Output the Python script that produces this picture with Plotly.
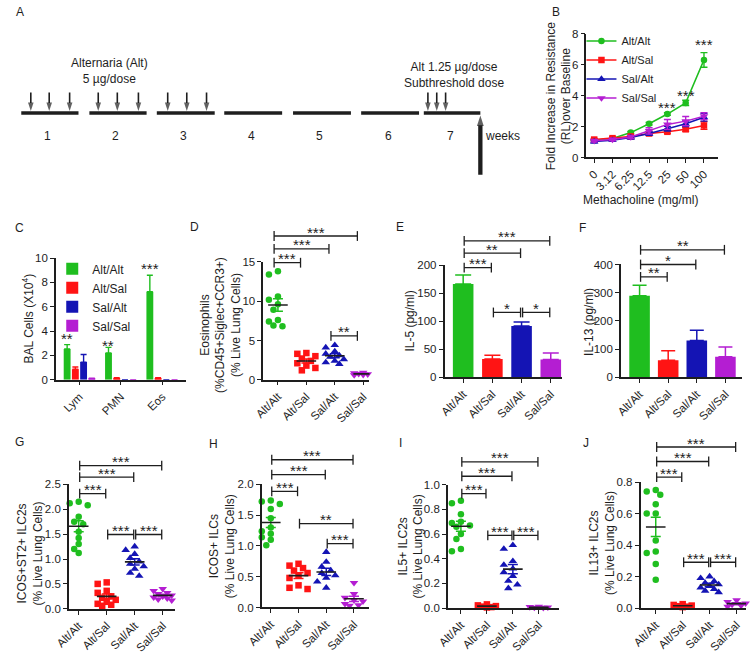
import numpy as np
import plotly.graph_objects as go

W, H = 751, 656
FONT = "Liberation Sans, Arial, Helvetica, sans-serif"
INK = "#1e1e1e"
GREEN, RED, BLUE, MAG = "#1FBE1F", "#FF1414", "#1414B4", "#B41ED2"

groups = ["Alt/Alt", "Alt/Sal", "Sal/Alt", "Sal/Sal"]
group_colors = [GREEN, RED, BLUE, MAG]
group_symbols = ["circle", "square", "triangle-up", "triangle-down"]
group_sizes = [6.5, 6.5, 7.5, 7.5]

# ---------------- A: protocol timeline (in weeks) ----------------
week_labels = ["1", "2", "3", "4", "5", "6", "7"]
week_start = [0.0, 1.0, 1.99, 2.98, 3.99, 4.99, 5.91]
week_end = [0.84, 1.84, 2.84, 3.83, 4.84, 5.84, 6.74]
sensitization_days = [0.14, 0.41, 0.71, 1.13, 1.41, 1.72, 2.15, 2.43, 2.72]
challenge_days = [5.97, 6.10, 6.23]
harvest_day = 6.74

# ---------------- B: methacholine challenge ----------------
mch = ["0", "3.12", "6.25", "12.5", "25", "50", "100"]
B_altalt = [1.12, 1.23, 1.61, 2.18, 2.81, 3.53, 6.31]
B_altalt_err = [0.06, 0.06, 0.07, 0.08, 0.08, 0.17, 0.47]
B_altsal = [1.16, 1.25, 1.36, 1.55, 1.66, 1.82, 2.07]
B_altsal_err = [0.07, 0.07, 0.08, 0.09, 0.10, 0.12, 0.25]
B_salalt = [1.03, 1.12, 1.29, 1.55, 1.86, 2.18, 2.60]
B_salalt_err = [0.08, 0.08, 0.09, 0.12, 0.15, 0.18, 0.25]
B_salsal = [1.08, 1.16, 1.33, 1.72, 2.14, 2.35, 2.67]
B_salsal_err = [0.08, 0.08, 0.10, 0.20, 0.32, 0.30, 0.22]
B_sig_idx = [4, 5, 6]
B_sig_y = [3.49, 4.25, 7.58]
B_sig_txt = ["***", "***", "***"]

# ---------------- C: BAL cells ----------------
C_cells = ["Lym", "PMN", "Eos"]
C_altalt = [2.53, 2.20, 7.23]
C_altalt_err = [0.35, 0.46, 1.35]
C_altsal = [0.86, 0.12, 0.12]
C_altsal_err = [0.19, 0.04, 0.04]
C_salalt = [1.45, 0.0, 0.0]
C_salalt_err = [0.62, 0.0, 0.0]
C_salsal = [0.10, 0.0, 0.0]
C_salsal_err = [0.02, 0.0, 0.0]
C_sig_y = [3.68, 3.15, 9.46]
C_sig_txt = ["**", "**", "***"]

# ---------------- D: eosinophils ----------------
D_altalt = [13.8, 13.4, 10.6, 10.2, 9.6, 8.9, 7.6, 7.4, 6.9, 6.8]
D_altsal = [3.4, 3.3, 3.0, 2.7, 2.4, 2.1, 1.8, 1.5, 1.2]
D_salalt = [4.4, 4.1, 3.6, 3.3, 3.1, 2.9, 2.6, 2.4, 2.2, 2.0]
D_salsal = [0.9, 0.85, 0.8, 0.75, 0.7, 0.65, 0.6]
D_brackets = [(0, 1, 14.9, "***"), (0, 2, 16.67, "***"), (0, 3, 18.3, "***"), (2, 3, 5.58, "**")]

# ---------------- E: IL-5 ----------------
E_mean = [167, 33, 92, 32]
E_err = [16, 6.5, 7, 11.7]
E_brackets = [(0, 1, 196, "***"), (0, 2, 222, "**"), (0, 3, 244, "***"), (1, 2, 116, "*"), (2, 3, 116, "*")]

# ---------------- F: IL-13 ----------------
F_mean = [289, 61, 131, 73]
F_err = [37, 33, 36, 35]
F_brackets = [(0, 1, 356, "**"), (0, 2, 400, "*"), (0, 3, 452, "**")]

# ---------------- G: ICOS+ST2+ ILC2s ----------------
G_altalt = [2.15, 2.12, 2.08, 1.85, 1.75, 1.70, 1.55, 1.42, 1.30, 1.20, 1.12]
G_altsal = [0.53, 0.50, 0.36, 0.32, 0.25, 0.22, 0.18, 0.14, 0.10, 0.08, 0.06]
G_salalt = [1.25, 1.18, 1.10, 1.02, 0.95, 0.90, 0.85, 0.80, 0.72, 0.66]
G_salsal = [0.40, 0.36, 0.32, 0.30, 0.27, 0.25, 0.23, 0.21, 0.19, 0.17]
G_brackets = [(0, 1, 2.316, "***"), (0, 2, 2.645, "***"), (0, 3, 2.875, "***"),
              (1, 2, 1.493, "***"), (2, 3, 1.493, "***")]

# ---------------- H: ICOS+ ILCs ----------------
H_altalt = [1.74, 1.72, 1.68, 1.60, 1.45, 1.30, 1.24, 1.20, 1.14, 1.10, 1.01]
H_altsal = [0.71, 0.68, 0.64, 0.60, 0.56, 0.52, 0.48, 0.36, 0.32, 0.30]
H_salalt = [0.90, 0.74, 0.66, 0.60, 0.56, 0.52, 0.48, 0.42, 0.32]
H_salsal = [0.40, 0.22, 0.16, 0.12, 0.10, 0.06, 0.04, 0.03]
H_brackets = [(0, 1, 1.888, "***"), (0, 2, 2.16, "***"), (0, 3, 2.40, "***"),
              (1, 3, 1.362, "**"), (2, 3, 1.037, "***")]

# ---------------- I: IL5+ ILC2s ----------------
I_altalt = [0.87, 0.85, 0.76, 0.70, 0.69, 0.67, 0.66, 0.60, 0.56, 0.48, 0.46]
I_altsal = [0.03, 0.022, 0.016, 0.012, 0.008, 0.005]
I_salalt = [0.51, 0.48, 0.38, 0.35, 0.32, 0.29, 0.26, 0.22, 0.19, 0.16]
I_salsal = [0.012, 0.009, 0.006, 0.004, 0.003]
I_brackets = [(0, 1, 0.928, "***"), (0, 2, 1.069, "***"), (0, 3, 1.186, "***"),
              (1, 2, 0.589, "***"), (2, 3, 0.589, "***")]

# ---------------- J: IL13+ ILC2s ----------------
J_altalt = [0.75, 0.74, 0.72, 0.66, 0.60, 0.60, 0.43, 0.36, 0.35, 0.28, 0.18]
J_altsal = [0.025, 0.02, 0.016, 0.012, 0.009, 0.006]
J_salalt = [0.20, 0.19, 0.17, 0.16, 0.15, 0.14, 0.13, 0.12, 0.11, 0.10]
J_salsal = [0.05, 0.04, 0.03, 0.022, 0.016, 0.01]
J_brackets = [(0, 1, 0.832, "***"), (0, 2, 0.931, "***"), (0, 3, 1.023, "***"),
              (1, 2, 0.291, "***"), (2, 3, 0.291, "***")]

# ================= layout geometry (pixels) =================
geo = {
    "B": dict(x0=583, x1=717, c0=591, dc=18.67, yb=154.3, yt=28.3, ymax=8, dtick=2, fmt="d"),
    "C": dict(x0=41.7, x1=174, c0=65.8, dc=42.2, yb=380.7, yt=256.7, ymax=10, dtick=2, fmt="d"),
    "D": dict(x0=253.3, x1=361.7, c0=268.3, dc=29.0, yb=380.7, yt=260.7, ymax=15, dtick=5, fmt="d", top=215, shift=-0.17),
    "E": dict(x0=438.3, x1=558.3, c0=457.3, dc=29.8, yb=378.3, yt=264.3, ymax=200, dtick=50, fmt="d", top=215, shift=0),
    "F": dict(x0=618.3, x1=741.7, c0=637.3, dc=29.2, yb=378.3, yt=263.3, ymax=400, dtick=100, fmt="d", top=215, shift=0),
    "G": dict(x0=55, x1=163.3, c0=65, dc=28.57, yb=614, yt=487.3, ymax=2.5, dtick=0.5, fmt=".1f", top=430, shift=0),
    "H": dict(x0=251.7, x1=361, c0=261, dc=28.3, yb=612.7, yt=487.3, ymax=2.0, dtick=0.5, fmt=".1f", top=430, shift=0),
    "I": dict(x0=441.7, x1=555, c0=455, dc=26.5, yb=613.3, yt=487.7, ymax=1.0, dtick=0.2, fmt=".1f", top=430, shift=0),
    "J": dict(x0=638.3, x1=746, c0=653.8, dc=27.5, yb=613.3, yt=485, ymax=0.8, dtick=0.2, fmt=".1f", top=430, shift=0),
}
axis_ids = {"B": 2, "C": 3, "D": 4, "E": 5, "F": 6, "G": 7, "H": 8, "I": 9, "J": 10}
ext_ids = {"D": 11, "E": 12, "F": 13, "G": 14, "H": 15, "I": 16, "J": 17}

TICKFONT = dict(family=FONT, size=11.5, color=INK)
TXTFONT = dict(family=FONT, size=12, color=INK)
STARFONT = dict(family=FONT, size=15, color=INK)

fig = go.Figure()
layout = dict(width=W, height=H, margin=dict(l=0, r=0, t=0, b=0),
              paper_bgcolor="white", plot_bgcolor="rgba(0,0,0,0)",
              barmode="overlay", font=dict(family=FONT, size=12, color=INK),
              showlegend=True)


def make_axes(key, tickvals, ticktext):
    g = geo[key]
    n = axis_ids[key]
    layout[f"xaxis{n}"] = dict(
        domain=[g["x0"] / W, g["x1"] / W],
        range=[(g["x0"] - g["c0"]) / g["dc"], (g["x1"] - g["c0"]) / g["dc"]],
        anchor=f"y{n}", showline=True, linecolor=INK, linewidth=1.5,
        ticks="outside", ticklen=4, tickwidth=1.3, tickcolor=INK,
        tickmode="array", tickvals=tickvals, ticktext=ticktext, tickangle=-45,
        showgrid=False, zeroline=False, tickfont=TICKFONT, fixedrange=True)
    layout[f"yaxis{n}"] = dict(
        domain=[1 - g["yb"] / H, 1 - g["yt"] / H], range=[0, g["ymax"]],
        anchor=f"x{n}", showline=True, linecolor=INK, linewidth=1.5,
        ticks="outside", ticklen=4, tickwidth=1.3, tickcolor=INK,
        tick0=0, dtick=g["dtick"], tickformat=g["fmt"],
        showgrid=False, zeroline=False, tickfont=TICKFONT, fixedrange=True)
    if key in ext_ids:
        m = ext_ids[key]
        layout[f"yaxis{m}"] = dict(
            domain=[1 - g["yb"] / H, 1 - g["top"] / H],
            range=[0, g["ymax"] * (g["yb"] - g["top"]) / (g["yb"] - g["yt"])],
            anchor=f"x{n}", visible=False, fixedrange=True)
    return f"x{n}", f"y{n}", (f"y{ext_ids[key]}" if key in ext_ids else None)


def swarm(vals, ppu_y, ppu_x, size=6.0, step=4.6, max_k=2):
    vals = np.asarray(vals, float)
    order = np.argsort(-vals)
    cands = [0.0]
    for k in range(1, max_k + 1):
        cands += [-k * step, k * step]
    placed = []
    offs = np.zeros(len(vals))
    for idx in order:
        ypx = vals[idx] * ppu_y
        best, bestd = 0.0, -1.0
        for c in cands:
            d = min([np.hypot(c - a, ypx - b) for a, b in placed], default=1e9)
            if d >= size:
                best = c
                break
            if d > bestd:
                best, bestd = c, d
        placed.append((best, ypx))
        offs[idx] = best / ppu_x
    return offs


def add_brackets(key, xa, ya, brackets, inset=0.035):
    g = geo[key]
    for (i, j, yv, txt) in brackets:
        l, r = i + inset + g["shift"], j - inset + g["shift"]
        fig.add_trace(go.Scatter(
            x=[l, r], y=[yv, yv], mode="lines+markers", xaxis=xa, yaxis=ya,
            line=dict(color=INK, width=1.3),
            marker=dict(symbol="line-ns-open", size=7, line=dict(width=1.3, color=INK)),
            cliponaxis=False, showlegend=False, hoverinfo="skip"))
        fig.add_annotation(x=(l + r) / 2, y=yv, xref=xa, yref=ya, text=txt,
                           showarrow=False, yshift=4, font=STARFONT)


def dot_panel(key, data, brackets):
    xa, ya, ye = make_axes(key, list(range(len(groups))), groups)
    g = geo[key]
    ppu_y = (g["yb"] - g["yt"]) / g["ymax"]
    half = 10.0 / g["dc"]
    for gi, vals in enumerate(data):
        vals = np.asarray(vals, float)
        offs = swarm(vals, ppu_y, g["dc"])
        fig.add_trace(go.Scatter(
            x=gi + offs, y=vals, mode="markers", xaxis=xa, yaxis=ya,
            marker=dict(symbol=group_symbols[gi], color=group_colors[gi],
                        size=group_sizes[gi], line=dict(width=0)),
            cliponaxis=False, showlegend=False, hoverinfo="skip"))
        m = vals.mean()
        s = vals.std(ddof=1) / np.sqrt(len(vals))
        fig.add_trace(go.Scatter(
            x=[gi], y=[m], mode="markers", xaxis=xa, yaxis=ya,
            marker=dict(size=1, color="rgba(0,0,0,0)"),
            error_y=dict(type="data", array=[s], color=group_colors[gi], thickness=1.5, width=5),
            showlegend=False, hoverinfo="skip"))
        fig.add_trace(go.Scatter(
            x=[gi - half, gi + half], y=[m, m], mode="lines", xaxis=xa, yaxis=ya,
            line=dict(color=INK, width=1.6), showlegend=False, hoverinfo="skip"))
    add_brackets(key, xa, ye, brackets)


def bar_panel(key, means, errs, brackets, capw):
    xa, ya, ye = make_axes(key, list(range(len(groups))), groups)
    g = geo[key]
    bw = 21.0 / g["dc"]
    for gi in range(len(groups)):
        fig.add_trace(go.Bar(
            x=[gi], y=[means[gi]], width=bw, xaxis=xa, yaxis=ya,
            marker=dict(color=group_colors[gi], line=dict(width=0)),
            error_y=dict(type="data", symmetric=False, array=[errs[gi]], arrayminus=[0],
                         color=group_colors[gi], thickness=1.5, width=capw),
            showlegend=False, hoverinfo="skip"))
    add_brackets(key, xa, ye, brackets)


# ================= Panel A =================
xa_px0, xa_scale = 6.4, 69.5
yline_px = 109.0
layout["xaxis"] = dict(domain=[0, 540 / W], range=[(0 - xa_px0) / xa_scale, (540 - xa_px0) / xa_scale],
                       anchor="y", visible=False, fixedrange=True)
layout["yaxis"] = dict(domain=[1 - 215 / H, 1], range=[yline_px - 215, yline_px],
                       anchor="x", visible=False, fixedrange=True)
tx, ty = [], []
for s, e in zip(week_start, week_end):
    tx += [s, e, None]
    ty += [0, 0, None]
fig.add_trace(go.Scatter(x=tx, y=ty, mode="lines", line=dict(color=INK, width=3.6),
                         xaxis="x", yaxis="y", showlegend=False, hoverinfo="skip"))


def arrow(x, y_tail, y_tip, width, head):
    fig.add_trace(go.Scatter(
        x=[x, x], y=[y_tail, y_tip], mode="lines+markers", xaxis="x", yaxis="y",
        line=dict(color=INK, width=width),
        marker=dict(symbol="arrow", size=[0, head], angleref="previous", color=INK,
                    line=dict(width=0)),
        cliponaxis=False, showlegend=False, hoverinfo="skip"))


for t in sensitization_days + challenge_days:
    arrow(t, 21.0, 2.0, 1.6, 9)
arrow(harvest_day, -63.0, -2.5, 4.3, 11)

for lab, s, e in zip(week_labels, week_start, week_end):
    fig.add_annotation(x=(s + e) / 2 - 0.03, y=-23, xref="x", yref="y", text=lab,
                       showarrow=False, font=TXTFONT)
fig.add_annotation(x=7.06, y=-23, xref="x", yref="y", text="weeks", showarrow=False, font=TXTFONT)
fig.add_annotation(x=1.30, y=43, xref="x", yref="y", text="Alternaria (Alt)<br>5 µg/dose",
                   showarrow=False, font=TXTFONT, align="center")
fig.add_annotation(x=6.35, y=38.5, xref="x", yref="y", text="Alt 1.25 µg/dose<br>Subthreshold dose",
                   showarrow=False, font=TXTFONT, align="center")

# ================= Panel B =================
xb, yb, _ = make_axes("B", list(range(len(mch))), mch)
B_series = [(B_altalt, B_altalt_err), (B_altsal, B_altsal_err), (B_salalt, B_salalt_err), (B_salsal, B_salsal_err)]
for gi, (vals, errs) in enumerate(B_series):
    fig.add_trace(go.Scatter(
        x=list(range(len(mch))), y=vals, mode="lines+markers", name=groups[gi],
        xaxis=xb, yaxis=yb, legend="legend",
        line=dict(color=group_colors[gi], width=1.5),
        marker=dict(symbol=group_symbols[gi], color=group_colors[gi], size=group_sizes[gi]),
        error_y=dict(type="data", array=errs, color=group_colors[gi], thickness=1.4, width=3.5),
        cliponaxis=False, hoverinfo="skip"))
for i, yv, txt in zip(B_sig_idx, B_sig_y, B_sig_txt):
    fig.add_annotation(x=i, y=yv, xref=xb, yref=yb, text=txt, showarrow=False,
                       yshift=-4, font=STARFONT)

# ================= Panel C =================
xc, yc, _ = make_axes("C", list(range(len(C_cells))), C_cells)
C_series = [(C_altalt, C_altalt_err), (C_altsal, C_altsal_err), (C_salalt, C_salalt_err), (C_salsal, C_salsal_err)]
slot = 8.4 / geo["C"]["dc"]
cbw = 7.0 / geo["C"]["dc"]
for gi, (vals, errs) in enumerate(C_series):
    fig.add_trace(go.Bar(
        x=list(range(len(C_cells))), y=vals, name=groups[gi], legend="legend2",
        width=cbw, offset=-2 * slot + gi * slot + (slot - cbw) / 2,
        xaxis=xc, yaxis=yc, marker=dict(color=group_colors[gi], line=dict(width=0)),
        error_y=dict(type="data", symmetric=False, array=errs, arrayminus=[0] * len(errs),
                     color=group_colors[gi], thickness=1.4, width=3),
        hoverinfo="skip"))
for ci, (yv, txt) in enumerate(zip(C_sig_y, C_sig_txt)):
    fig.add_annotation(x=ci - 1.5 * slot, y=yv, xref=xc, yref=yc, text=txt,
                       showarrow=False, yshift=-4, font=STARFONT)

# ================= Panels D-J =================
dot_panel("D", [D_altalt, D_altsal, D_salalt, D_salsal], D_brackets)
bar_panel("E", E_mean, E_err, E_brackets, capw=8)
bar_panel("F", F_mean, F_err, F_brackets, capw=7)
dot_panel("G", [G_altalt, G_altsal, G_salalt, G_salsal], G_brackets)
dot_panel("H", [H_altalt, H_altsal, H_salalt, H_salsal], H_brackets)
dot_panel("I", [I_altalt, I_altsal, I_salalt, I_salsal], I_brackets)
dot_panel("J", [J_altalt, J_altsal, J_salalt, J_salsal], J_brackets)

# ================= legends =================
LEGFONT = dict(family=FONT, size=11, color=INK)
layout["legend"] = dict(x=578 / W, y=1 - 21 / H, xanchor="left", yanchor="top",
                        bgcolor="rgba(0,0,0,0)", font=LEGFONT, itemwidth=30, tracegroupgap=0)
layout["legend2"] = dict(x=38 / W, y=1 - 253 / H, xanchor="left", yanchor="top",
                         bgcolor="rgba(0,0,0,0)", font=TXTFONT, itemwidth=30, tracegroupgap=0)

# ================= text: panel letters, axis titles =================
letters = [("A", 5, 6), ("B", 552, 6), ("C", 5, 226), ("D", 183, 225), ("E", 393, 225),
           ("F", 579, 226), ("G", 5, 444), ("H", 203, 446), ("I", 393, 445), ("J", 583, 445)]
for t, px, py in letters:
    fig.add_annotation(x=px / W, y=1 - py / H, xref="paper", yref="paper", text=t,
                       showarrow=False, font=TXTFONT, xanchor="center", yanchor="middle")

ytitles = [
    ("Fold Increase in Resistance<br>(RL)over Baseline", 555, 92),
    ("BAL Cells (X10<sup>4</sup>)", 13.5, 318),
    ("Eosinophils<br>(%CD45+Siglec+CCR3+)<br>(% Live Lung Cells)", 209, 325),
    ("IL-5 (pg/ml)", 403.5, 321),
    ("IL-13 (pg/ml)", 585, 321.5),
    ("ICOS+ST2+ ILC2s<br>(% Live Lung Cells)", 15, 558),
    ("ICOS+ ILCs<br>(% Live Lung Cells)", 211.5, 550),
    ("IL5+ ILC2s<br>(% Live Lung Cells)", 403.5, 550),
    ("IL13+ ILC2s<br>(% Live Lung Cells)", 599, 547),
]
for t, px, py in ytitles:
    fig.add_annotation(x=px / W, y=1 - py / H, xref="paper", yref="paper", text=t,
                       showarrow=False, font=TXTFONT, textangle=-90,
                       xanchor="center", yanchor="middle", align="center")
fig.add_annotation(x=638 / W, y=1 - 198 / H, xref="paper", yref="paper",
                   text="Methacholine (mg/ml)", showarrow=False, font=TXTFONT,
                   xanchor="center", yanchor="middle")

fig.update_layout(**layout)
fig.write_html("out.html", config={"displayModeBar": False},
               post_script="document.body.style.margin='0px';document.body.style.overflow='hidden';")
